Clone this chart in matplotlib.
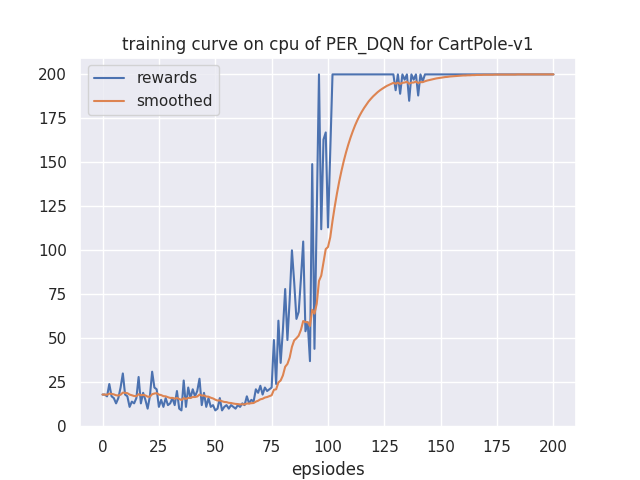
import matplotlib
matplotlib.use("Agg")
import matplotlib.pyplot as plt
import seaborn as sns

rewards_0_49 = [18, 18, 17, 24, 17, 16, 13, 16, 22, 30,
                18, 17, 11, 14, 13, 16, 28, 13, 19, 15,
                10, 17, 31, 22, 21, 11, 15, 11, 16, 12,
                13, 16, 12, 20, 10, 9, 26, 11, 22, 16,
                21, 17, 20, 27, 12, 19, 11, 16, 11, 12]
rewards_50_99 = [9, 10, 16, 9, 11, 12, 10, 12, 11, 10,
                 12, 11, 13, 12, 17, 13, 15, 14, 21, 19,
                 23, 18, 22, 20, 21, 22, 49, 24, 60, 36,
                 55, 78, 49, 72, 100, 82, 61, 65, 84, 105,
                 54, 59, 37, 149, 44, 120, 200, 112, 163, 167]
rewards_100_149 = [113, 157, 200, 200, 200, 200, 200, 200, 200, 200,
                   200, 200, 200, 200, 200, 200, 200, 200, 200, 200,
                   200, 200, 200, 200, 200, 200, 200, 200, 200, 200,
                   191, 200, 189, 200, 197, 200, 185, 200, 197, 200,
                   188, 200, 196, 200, 200, 200, 200, 200, 200, 200]
rewards_150_200 = [200, 200, 200, 200, 200, 200, 200, 200, 200, 200,
                   200, 200, 200, 200, 200, 200, 200, 200, 200, 200,
                   200, 200, 200, 200, 200, 200, 200, 200, 200, 200,
                   200, 200, 200, 200, 200, 200, 200, 200, 200, 200,
                   200, 200, 200, 200, 200, 200, 200, 200, 200, 200,
                   200]

smoothed_0_49 = [18.0, 18.0, 17.9, 18.5, 18.4, 18.1, 17.6, 17.5, 17.9, 19.1,
                 19.0, 18.8, 18.0, 17.6, 17.2, 17.1, 18.2, 17.6, 17.8, 17.5,
                 16.8, 16.8, 18.2, 18.6, 18.8, 18.0, 17.7, 17.1, 17.0, 16.5,
                 16.1, 16.1, 15.7, 16.1, 15.5, 14.9, 16.0, 15.5, 16.1, 16.1,
                 16.6, 16.6, 16.9, 18.0, 17.4, 17.5, 16.9, 16.8, 16.2, 15.8]
smoothed_50_99 = [15.1, 14.6, 14.7, 14.2, 13.8, 13.7, 13.3, 13.2, 12.9, 12.7,
                  12.6, 12.4, 12.5, 12.4, 12.9, 12.9, 13.1, 13.2, 14.0, 14.5,
                  15.3, 15.6, 16.3, 16.6, 17.1, 17.6, 20.7, 21.0, 24.9, 26.0,
                  28.9, 33.8, 35.4, 39.0, 45.1, 48.8, 50.0, 51.5, 54.8, 59.8,
                  59.2, 59.2, 57.0, 66.2, 64.0, 69.6, 82.6, 85.6, 93.3, 100.7]
smoothed_100_149 = [101.9, 107.4, 116.7, 125.0, 132.5, 139.3, 145.3, 150.8, 155.7, 160.1,
                    164.1, 167.7, 171.0, 173.9, 176.5, 178.8, 180.9, 182.8, 184.6, 186.1,
                    187.5, 188.7, 189.9, 190.9, 191.8, 192.6, 193.4, 194.0, 194.6, 195.2,
                    194.7, 195.3, 194.6, 195.2, 195.4, 195.8, 194.7, 195.3, 195.4, 195.9,
                    195.1, 195.6, 195.6, 196.1, 196.5, 196.8, 197.1, 197.4, 197.7, 197.9]
smoothed_150_200 = [198.1, 198.3, 198.5, 198.6, 198.8, 198.9, 199.0, 199.1, 199.2, 199.3,
                    199.4, 199.4, 199.5, 199.5, 199.6, 199.6, 199.7, 199.7, 199.7, 199.8,
                    199.8, 199.8, 199.8, 199.8, 199.9, 199.9, 199.9, 199.9, 199.9, 199.9,
                    199.9, 199.9, 199.9, 199.9, 200.0, 200.0, 200.0, 200.0, 200.0, 200.0,
                    200.0, 200.0, 200.0, 200.0, 200.0, 200.0, 200.0, 200.0, 200.0, 200.0,
                    200.0]

rewards = rewards_0_49 + rewards_50_99 + rewards_100_149 + rewards_150_200
smoothed = smoothed_0_49 + smoothed_50_99 + smoothed_100_149 + smoothed_150_200

title = "training curve on cpu of PER_DQN for CartPole-v1"
xlabel = "epsiodes"

sns.set_theme()
fig = plt.figure(figsize=(6.4, 4.8), dpi=100)
plt.title(title)
plt.xlabel(xlabel)
plt.plot(rewards, label="rewards")
plt.plot(smoothed, label="smoothed")
plt.legend(loc="upper left")
plt.savefig("out.png", dpi=100)
